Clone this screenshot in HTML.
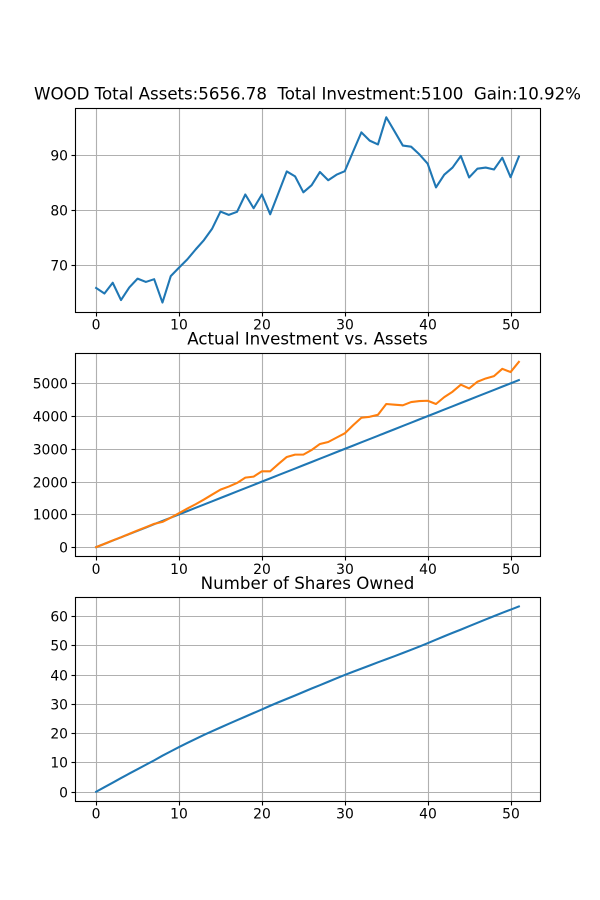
<!DOCTYPE html>
<html lang="en">
<head>
<meta charset="utf-8">
<title>WOOD investment chart</title>
<style>
html,body{margin:0;padding:0;background:#fff;}
svg{display:block;font-family:"DejaVu Sans","Liberation Sans",sans-serif;}
.title{font-size:16.67px;text-anchor:middle;fill:#000;white-space:pre;}
.tick{font-size:13.89px;fill:#000;}
</style>
</head>
<body>
<svg id="chart" xmlns="http://www.w3.org/2000/svg" width="600" height="900" viewBox="0 0 600 900" xml:space="preserve">
<rect x="0" y="0" width="600" height="900" fill="#ffffff"/>
<g id="panel-price"></g>
<g id="panel-invest"></g>
<g id="panel-shares"></g>
<text class="title" x="307.5" y="99.7" textLength="547" lengthAdjust="spacing">WOOD Total Assets:5656.78  Total Investment:5100  Gain:10.92%</text>
<text class="title" x="307.5" y="344.3">Actual Investment vs. Assets</text>
<text class="title" x="307.5" y="588.9">Number of Shares Owned</text>
</svg>
<script>
const xTicks = [0, 10, 20, 30, 40, 50];
const priceTicks = [70, 80, 90];
const investTicks = [0, 1000, 2000, 3000, 4000, 5000];
const shareTicks = [0, 10, 20, 30, 40, 50, 60];

const priceValues = [65.85, 64.85, 66.8, 63.65, 65.95, 67.55, 66.95, 67.45, 63.2, 68.0,
  69.55, 71.05, 72.85, 74.55, 76.65, 79.75, 79.15, 79.7, 82.85, 80.35,
  82.85, 79.25, 83.15, 87.05, 86.15, 83.25, 84.55, 86.95, 85.45, 86.45,
  87.1, 90.65, 94.15, 92.65, 91.95, 96.9, 94.35, 91.75, 91.55, 90.15,
  88.45, 84.15, 86.45, 87.75, 89.85, 85.95, 87.55, 87.75, 87.4, 89.55,
  86.0, 89.75];

const investedValues = [0, 100, 200, 300, 400, 500, 600, 700, 800, 900,
  1000, 1100, 1200, 1300, 1400, 1500, 1600, 1700, 1800, 1900,
  2000, 2100, 2200, 2300, 2400, 2500, 2600, 2700, 2800, 2900,
  3000, 3100, 3200, 3300, 3400, 3500, 3600, 3700, 3800, 3900,
  4000, 4100, 4200, 4300, 4400, 4500, 4600, 4700, 4800, 4900,
  5000, 5100];

const assetValues = [0, 100, 205, 300, 405, 510, 610, 710, 770, 900,
  1036, 1178, 1310, 1453, 1605, 1757, 1849, 1960, 2123, 2153,
  2316, 2316, 2540, 2753, 2824, 2824, 2966, 3150, 3210, 3343,
  3475, 3720, 3950, 3980, 4040, 4370, 4350, 4330, 4430, 4460,
  4470, 4370, 4580, 4745, 4960, 4845, 5050, 5150, 5220, 5445,
  5345, 5656.78];

const shareValues = [0, 1.56, 3.08, 4.67, 6.21, 7.71, 9.22, 10.72, 12.31, 13.79,
  15.25, 16.67, 18.05, 19.39, 20.69, 21.94, 23.2, 24.45, 25.66, 26.9,
  28.11, 29.37, 30.57, 31.72, 32.88, 34.08, 35.26, 36.41, 37.58, 38.74,
  39.89, 40.99, 42.05, 43.13, 44.22, 45.25, 46.31, 47.4, 48.49, 49.6,
  50.75, 51.95, 53.12, 54.27, 55.39, 56.55, 57.7, 58.85, 60.0, 61.12,
  62.19, 63.3];

const NS = 'http://www.w3.org/2000/svg';
const LEFT = 75, RIGHT = 540;

function mk(parent, tag, attrs, txt) {
  const el = document.createElementNS(NS, tag);
  for (const k in attrs) el.setAttribute(k, attrs[k]);
  if (txt !== undefined) el.textContent = txt;
  parent.appendChild(el);
  return el;
}
function snap(v) { return Math.floor(v + 0.5) + 0.5; }

function drawPanel(panelId, top, bottom, yTickValues, seriesList) {
  const g = document.getElementById(panelId);
  const count = seriesList[0].values.length;
  const xMargin = (count - 1) * 0.05;
  const xMin = -xMargin, xMax = count - 1 + xMargin;
  const xScale = v => LEFT + (v - xMin) / (xMax - xMin) * (RIGHT - LEFT);

  let lo = Infinity, hi = -Infinity;
  seriesList.forEach(s => s.values.forEach(v => { lo = Math.min(lo, v); hi = Math.max(hi, v); }));
  const yMargin = (hi - lo) * 0.05;
  const yMin = lo - yMargin, yMax = hi + yMargin;
  const yScale = v => bottom - (v - yMin) / (yMax - yMin) * (bottom - top);

  const snapTop = snap(top), snapBottom = snap(bottom);

  xTicks.forEach(t => {
    const x = snap(xScale(t));
    const grid = mk(g, 'line', {x1: x, x2: x, y1: snapTop, y2: snapBottom, stroke: '#b0b0b0', 'stroke-width': 1.11});
    
    
    const tick = mk(g, 'line', {x1: x, x2: x, y1: snapBottom, y2: snapBottom + 4, stroke: '#000', 'stroke-width': 1.11});
    
    
    const label = mk(g, 'text', {class: 'tick', x: x - 0.5, y: bottom + 17.5, 'text-anchor': 'middle'}, String(t));
    
    
  });

  yTickValues.forEach(t => {
    const y = snap(yScale(t));
    const grid = mk(g, 'line', {x1: LEFT, x2: RIGHT, y1: y, y2: y, stroke: '#b0b0b0', 'stroke-width': 1.11});
    
    
    const tick = mk(g, 'line', {x1: LEFT + 0.5, x2: LEFT - 3.5, y1: y, y2: y, stroke: '#000', 'stroke-width': 1.11});
    
    
    const label = mk(g, 'text', {class: 'tick', x: 68, y: y + 4.8, 'text-anchor': 'end'}, String(t));
    
    
  });

  seriesList.forEach(s => {
    const pts = s.values.map((v, i) => xScale(i).toFixed(2) + ',' + yScale(v).toFixed(2)).join(' ');
    const line = mk(g, 'polyline', {points: pts, fill: 'none', stroke: s.color, 'stroke-width': 2.08, 'stroke-linejoin': 'round', 'stroke-linecap': 'square'});
    
    
  });

  const frame = mk(g, 'rect', {x: LEFT + 0.5, y: snapTop, width: RIGHT - LEFT, height: snapBottom - snapTop, fill: 'none', stroke: '#000', 'stroke-width': 1.11});
  
  
}

drawPanel('panel-price', 108, 311.82, priceTicks, [
  {values: priceValues, color: '#1f77b4', name: 'price-line'}
]);
drawPanel('panel-invest', 352.59, 556.41, investTicks, [
  {values: investedValues, color: '#1f77b4', name: 'invested-line'},
  {values: assetValues, color: '#ff7f0e', name: 'assets-line'}
]);
drawPanel('panel-shares', 597.18, 801, shareTicks, [
  {values: shareValues, color: '#1f77b4', name: 'shares-line'}
]);
</script>
</body>
</html>
